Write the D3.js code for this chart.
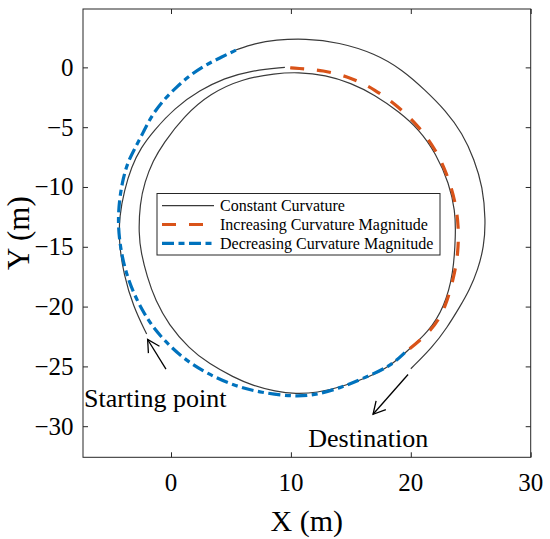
<!DOCTYPE html>
<html>
<head>
<meta charset="utf-8">
<script src="https://cdn.jsdelivr.net/npm/d3@7"></script>
<style>
  body { margin: 0; background: #fff; }
  text { font-family: "Liberation Serif", "DejaVu Serif", serif; fill: #000; }
</style>
</head>
<body>
<div id="vis"></div>
<script>
// values, in metres

// constant curvature: from the starting point up to where the orange begins
const constStart = [
  [-2.03, -22.3], [-3.15, -20.0], [-3.95, -17.3], [-4.35, -14.6], [-4.3, -12.4],
  [-3.9, -10.3], [-3.3, -8.3], [-2.5, -6.7], [-1.45, -5.3], [0.3, -3.4],
  [2.4, -1.9], [4.5, -0.9], [6.5, -0.3], [9.5, 0.0]
];

// constant curvature: the inner loop
const constLoop = [
  [6.0, -0.95], [8.7, -0.5], [10.6, -0.4], [12.9, -0.64], [15.0, -1.3], [17.0, -2.3],
  [19.0, -3.7], [20.7, -5.2], [22.1, -7.2], [23.2, -9.7], [23.7, -12.0], [23.75, -13.9],
  [23.55, -17.3], [22.8, -20.0], [21.5, -22.1], [19.6, -23.8], [18.3, -24.95],
  [16.5, -25.9], [14.1, -26.75], [12.2, -27.2], [10.4, -27.3], [8.7, -27.1],
  [6.8, -26.6], [5.2, -25.9], [3.2, -24.8], [1.5, -23.5], [-0.2, -21.5],
  [-1.3, -19.5], [-2.0, -17.5], [-2.5, -15.5], [-2.7, -13.9], [-2.6, -11.4],
  [-2.2, -9.6], [-1.5, -7.8], [-0.64, -6.35], [1.03, -4.13], [3.26, -2.17]
];

// constant curvature: outer arc from the end of the blue to the destination
const constEnd = [
  [5.4, 1.45], [7.0, 2.0], [8.7, 2.3], [11.2, 2.42], [14.0, 2.1], [17.0, 1.17],
  [19.3, -0.2], [21.2, -1.9], [22.9, -3.6], [24.3, -5.5], [25.3, -7.7], [26.0, -10.0],
  [26.25, -12.8], [26.1, -15.0], [25.6, -16.9], [24.9, -18.6], [24.1, -20.0],
  [23.0, -21.8], [21.8, -23.4], [20.0, -25.2]
];

const increasing = [
  [9.94, -0.03], [10.4, -0.08], [12.7, -0.23], [15.0, -0.84], [17.0, -1.84],
  [19.0, -3.3], [20.7, -4.97], [22.1, -6.9], [23.0, -8.86], [23.7, -11.1],
  [24.0, -13.3], [23.95, -15.55], [23.6, -17.5], [22.9, -20.1], [21.8, -22.0],
  [19.5, -23.85]
];

const decreasing = [
  [19.5, -23.85], [18.3, -25.0], [15.8, -26.1], [14.1, -26.8], [12.2, -27.35],
  [10.4, -27.55], [7.5, -27.2], [5.2, -26.6], [3.0, -25.6], [1.1, -24.4],
  [-0.5, -22.9], [-1.6, -21.6], [-2.4, -20.3], [-3.1, -18.9], [-3.6, -17.6],
  [-4.0, -16.2], [-4.3, -14.5], [-4.42, -12.8], [-4.3, -11.0], [-4.0, -9.3],
  [-3.6, -7.9], [-3.0, -6.75], [-2.3, -5.4], [-1.6, -4.0], [-0.6, -2.7],
  [0.5, -1.6], [1.6, -0.65], [2.85, 0.19], [4.1, 0.8], [5.43, 1.45]
];

const xTicks = [0, 10, 20, 30];
const yTicks = [0, -5, -10, -15, -20, -25, -30];
const legendLabels = ["Constant Curvature", "Increasing Curvature Magnitude", "Decreasing Curvature Magnitude"];

// annotation arrows [tail, tip] and texts
const arrows = [
  [[-0.42, -25.23], [-1.95, -22.75]],
  [[19.77, -25.68], [16.85, -29.0]]
];
const notes = [
  { text: "Starting point", x: -7.25, y: -28.39 },
  { text: "Destination", x: 11.45, y: -31.73 }
];

const width = 550, height = 539;
const plot = { left: 83, right: 530.7, top: 9, bottom: 457.3 };

const svg = d3.select("#vis")
  .append("svg")
  .attr("width", width)
  .attr("height", height);

const x = d3.scaleLinear().domain([-7.34, 30]).range([plot.left, plot.right]);
const y = d3.scaleLinear().domain([-32.6, 4.88]).range([plot.bottom, plot.top]);

const line = d3.line()
  .x(d => x(d[0]))
  .y(d => y(d[1]))
  .curve(d3.curveBasis);

const loopLine = d3.line()
  .x(d => x(d[0]))
  .y(d => y(d[1]))
  .curve(d3.curveBasisClosed);

const black = "#3a3a3a", orange = "#D95319", blue = "#0072BD";
const orangeDash = "14,13", blueDash = "12,4.5,6,4.5";

svg.append("clipPath").attr("id", "clip")
  .append("rect")
  .attr("x", plot.left).attr("y", plot.top)
  .attr("width", plot.right - plot.left).attr("height", plot.bottom - plot.top);

const g = svg.append("g").attr("clip-path", "url(#clip)");

[constStart, constEnd].forEach(seg => {
  g.append("path").datum(seg)
    .attr("d", line)
    .attr("fill", "none")
    .attr("stroke", black)
    .attr("stroke-width", 1.2);
});

g.append("path").datum(constLoop)
  .attr("d", loopLine)
  .attr("fill", "none")
  .attr("stroke", black)
  .attr("stroke-width", 1.2);

g.append("path").datum(increasing)
  .attr("d", line)
  .attr("fill", "none")
  .attr("stroke", orange)
  .attr("stroke-width", 3.2)
  .attr("stroke-dasharray", orangeDash);

g.append("path").datum(decreasing)
  .attr("d", line)
  .attr("fill", "none")
  .attr("stroke", blue)
  .attr("stroke-width", 3.2)
  .attr("stroke-dasharray", blueDash);

// axes box with inward ticks on all four sides
const axisColor = "#262626";
const tickLen = 5;

svg.append("rect")
  .attr("x", plot.left).attr("y", plot.top)
  .attr("width", plot.right - plot.left).attr("height", plot.bottom - plot.top)
  .attr("fill", "none")
  .attr("stroke", axisColor)
  .attr("stroke-width", 1);

const xAxisBottom = d3.axisBottom(x).tickValues(xTicks).tickSize(-tickLen).tickFormat("");
const xAxisTop = d3.axisTop(x).tickValues(xTicks).tickSize(-tickLen).tickFormat("");
const yAxisLeft = d3.axisLeft(y).tickValues(yTicks).tickSize(-tickLen).tickFormat("");
const yAxisRight = d3.axisRight(y).tickValues(yTicks).tickSize(-tickLen).tickFormat("");

function styleAxis(sel) {
  sel.select(".domain").remove();
  sel.selectAll(".tick line").attr("stroke", axisColor);
}

svg.append("g").attr("transform", `translate(0,${plot.bottom})`).call(xAxisBottom).call(styleAxis);
svg.append("g").attr("transform", `translate(0,${plot.top})`).call(xAxisTop).call(styleAxis);
svg.append("g").attr("transform", `translate(${plot.left},0)`).call(yAxisLeft).call(styleAxis);
svg.append("g").attr("transform", `translate(${plot.right},0)`).call(yAxisRight).call(styleAxis);

const fmt = d => d < 0 ? "\u2212" + Math.abs(d) : String(d);

svg.selectAll("text.xtick")
  .data(xTicks)
  .join("text")
  .attr("class", "xtick")
  .attr("x", d => x(d))
  .attr("y", 491)
  .attr("text-anchor", "middle")
  .style("font-size", "25px")
  .text(fmt);

svg.selectAll("text.ytick")
  .data(yTicks)
  .join("text")
  .attr("class", "ytick")
  .attr("x", plot.left - 9.5)
  .attr("y", d => y(d))
  .attr("dy", "0.34em")
  .attr("text-anchor", "end")
  .style("font-size", "25px")
  .text(fmt);

svg.append("text")
  .attr("x", (plot.left + plot.right) / 2)
  .attr("y", 531)
  .attr("text-anchor", "middle")
  .style("font-size", "30px")
  .text("X (m)");

svg.append("text")
  .attr("transform", `translate(29,${(plot.top + plot.bottom) / 2}) rotate(-90)`)
  .attr("text-anchor", "middle")
  .style("font-size", "31px")
  .text("Y (m)");

// annotations
svg.append("defs").append("marker")
  .attr("id", "head")
  .attr("markerUnits", "userSpaceOnUse")
  .attr("markerWidth", 30).attr("markerHeight", 30)
  .attr("refX", 0).attr("refY", 0)
  .attr("viewBox", "-15 -15 30 30")
  .attr("orient", "auto")
  .append("path")
  .attr("d", "M-12,-6.5L0,0L-12,6.5")
  .attr("fill", "none")
  .attr("stroke", "#000")
  .attr("stroke-width", 1.3);

svg.selectAll("line.arrow")
  .data(arrows)
  .join("line")
  .attr("class", "arrow")
  .attr("x1", d => x(d[0][0])).attr("y1", d => y(d[0][1]))
  .attr("x2", d => x(d[1][0])).attr("y2", d => y(d[1][1]))
  .attr("stroke", "#000")
  .attr("stroke-width", 1.3)
  .attr("marker-end", "url(#head)");

svg.selectAll("text.note")
  .data(notes)
  .join("text")
  .attr("class", "note")
  .attr("x", d => x(d.x))
  .attr("y", d => y(d.y))
  .style("font-size", "26px")
  .text(d => d.text);

// legend
const legend = svg.append("g");
legend.append("rect")
  .attr("x", 157).attr("y", 193.5)
  .attr("width", 283).attr("height", 61.5)
  .attr("fill", "#fff")
  .attr("stroke", axisColor)
  .attr("stroke-width", 1);

const legendStyle = [
  { color: black, width: 1.2, dash: null },
  { color: orange, width: 3.2, dash: orangeDash },
  { color: blue, width: 3.2, dash: blueDash }
];

legendLabels.forEach((label, i) => {
  const cy = 205.7 + i * 18.8;
  legend.append("line")
    .attr("x1", 162).attr("x2", i === 1 ? 205 : 214)
    .attr("y1", cy).attr("y2", cy)
    .attr("stroke", legendStyle[i].color)
    .attr("stroke-width", legendStyle[i].width)
    .attr("stroke-dasharray", legendStyle[i].dash);
  legend.append("text")
    .attr("x", 220)
    .attr("y", cy)
    .attr("dy", "0.33em")
    .style("font-size", "16px")
    .text(label);
});
</script>
</body>
</html>
